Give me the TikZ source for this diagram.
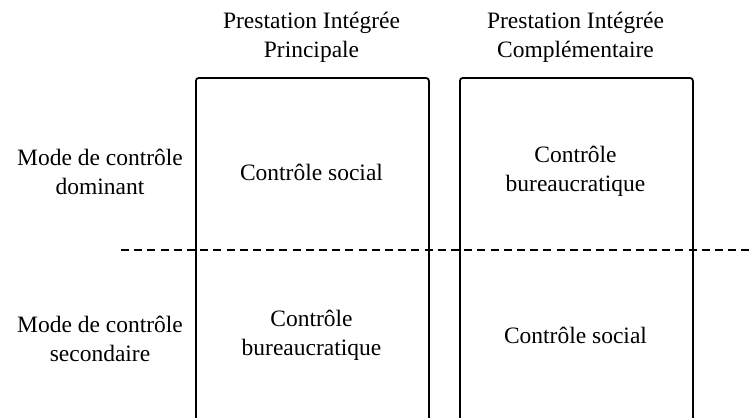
\documentclass[tikz,border=0pt]{standalone}
\usepackage{fontspec}
\setmainfont{Liberation Serif}
\usetikzlibrary{positioning}
\tikzset{
  colbox/.style={draw=black, line width=0.9pt, rounded corners=1.5pt,
    minimum width=116.5pt, minimum height=182pt, inner sep=0pt, anchor=north west},
  lbl/.style={align=center, inner sep=0pt, font=\fontsize{11.75}{14.5}\selectfont},
  sepln/.style={dash pattern=on 4pt off 2.6pt, line width=0.75pt},
}

\begin{document}
\begin{tikzpicture}[x=0.5pt, y=-0.5pt]
    \clip (0,0) rectangle (751,418);
    % the two columns, open at the bottom
    \node[colbox] (boxp) at (195,77) {};
    \node[colbox] (boxc) at (459,77) {};
    \node[lbl] (hdp) at (311.5,37.5) {Prestation Intégrée\\Principale};
    \node[lbl] (hdc) at (575.5,37.5) {Prestation Intégrée\\Complémentaire};
    \node[lbl] (rowdom) at (100,172) {Mode de contrôle\\dominant};
    \node[lbl] (rowsec) at (100,338.5) {Mode de contrôle\\secondaire};
    \node[lbl] (pdom) at (311.5,172) {Contrôle social};
    \node[lbl] (cdom) at (575.5,171.5) {Contrôle\\bureaucratique};
    \node[lbl] (psec) at (311.5,335) {Contrôle\\bureaucratique};
    \node[lbl] (csec) at (575.5,335) {Contrôle social};
    % separation line
    \coordinate (sepl) at (121,250);
    \coordinate (sepr) at (751,250);
    \draw[sepln] (sepl) -- (sepr);
  \end{tikzpicture}
\end{document}
